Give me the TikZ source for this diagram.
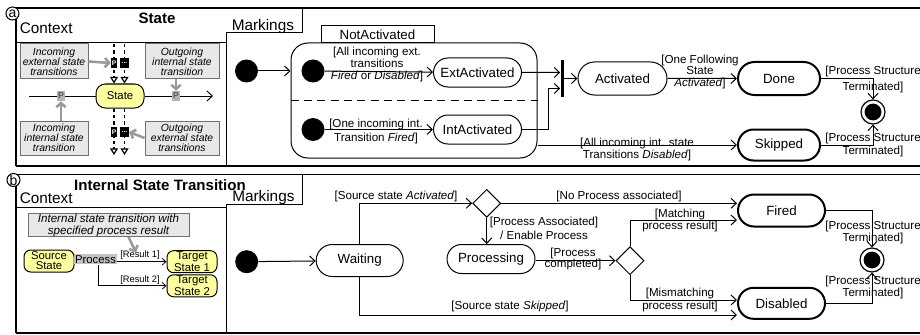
\documentclass[tikz,border=0pt]{standalone}
\usepackage{fontspec}
\setmainfont{Liberation Sans}
\usetikzlibrary{arrows.meta,shapes.misc,shapes.geometric,calc}

\definecolor{stateyellow}{HTML}{FFFFA0}
\definecolor{notefill}{HTML}{E8E8E8}
\definecolor{notegray}{HTML}{707070}
\definecolor{arrowgray}{HTML}{9A9A9A}
\definecolor{pgrayfill}{HTML}{B4B4B4}
\definecolor{procgray}{HTML}{C4C4C4}

\newcommand\mynodefont{\fontsize{10}{12}\selectfont}
\newcommand\myguardfont{\fontsize{8.7}{8.8}\selectfont}
\newcommand\mytitlefont{\fontsize{11.3}{13}\selectfont\bfseries}
\newcommand\myheadfont{\fontsize{11.5}{13}\selectfont}
\newcommand\mynotefont{\fontsize{7.8}{7.5}\selectfont\itshape}
\newcommand\mynotefontb{\fontsize{8.7}{8.8}\selectfont\itshape}
\newcommand\myctxfont{\fontsize{8.5}{7.5}\selectfont}
\newcommand\myresfont{\fontsize{7}{8}\selectfont}
\newcommand\mytinyfont{\fontsize{5}{5}\selectfont\bfseries}

\begin{document}
\begin{tikzpicture}[x=0.75pt,y=-0.75pt,
  framel/.style={line width=0.9pt},
  rulel/.style={line width=0.75pt},
  stn/.style={draw, rounded rectangle, line width=0.75pt, inner sep=0pt, font=\mynodefont},
  stnb/.style={stn, line width=1.5pt},
  tarr/.style={line width=0.75pt, -{Straight Barb[length=4pt,width=7.5pt]}},
  smarr/.style={line width=0.6pt, -{Straight Barb[length=2.8pt,width=5pt]}},
  grarr/.style={line width=1.9pt, draw=arrowgray, -{Straight Barb[length=3.2pt,width=7pt]}},
  grd/.style={font=\myguardfont, align=center, inner sep=0pt},
  idot/.style={circle, fill=black, inner sep=0pt, minimum size=17.25pt},
  fdot/.style={circle, draw, line width=0.9pt, inner sep=0pt, minimum size=18pt},
  notebox/.style={draw=notegray, fill=notefill, line width=0.75pt, inner sep=0pt, align=center, font=\mynotefont},
  ctxstate/.style={draw, fill=stateyellow, rounded corners=5pt, line width=0.75pt, inner sep=0pt, align=center, font=\myctxfont, minimum width=37.5pt, minimum height=16.5pt},
  decn/.style={draw, diamond, line width=0.75pt, inner sep=0pt, minimum width=21pt, minimum height=21pt},
  pgray/.style={fill=pgrayfill, inner sep=0pt, minimum width=6pt, minimum height=7.5pt, font=\fontsize{6.5}{6.5}\selectfont\bfseries, text=black!65},
  blkbox/.style={fill=black, text=white, inner sep=0pt, minimum height=7pt, font=\mytinyfont},
  dashl/.style={line width=0.9pt, dash pattern=on 2.6pt off 2.2pt},
  ttip/.style={-{Triangle[open,length=5pt,width=6pt]}},
  tagc/.style={circle, draw, fill=white, line width=0.75pt, inner sep=0pt, minimum size=9.75pt, font=\fontsize{10.5}{11}\selectfont},
  txt/.style={inner sep=0pt}
]
\useasboundingbox (0,0) rectangle (920,335);

% ---------------- panel (a): frame and headers ----------------
\draw[framel] (16,166) -- (16,8) -- (920,8);
\draw[framel] (16,166) -- (920,166);
\draw[rulel] (16,42.5) -- (226,42.5);
\draw[rulel] (226,33) -- (226,166);
\draw[rulel] (226,33) -- (302,33) -- (302,8);
\node[tagc] (tagA) at (12.5,13.5) {a};
\node[txt, font=\mytitlefont] (titleA) at (157,18.5) {State};
\node[txt, font=\myheadfont, anchor=west] (ctxA) at (19.5,28.3) {Context};
\node[txt, font=\myheadfont, anchor=west] (mkA) at (231.5,26.5) {Markings};

% ---------------- panel (a): context ----------------
\node[notebox, minimum width=51pt, minimum height=26.25pt] (inExt) at (54,61.5) {Incoming\\external state\\transitions};
\node[notebox, minimum width=55.5pt, minimum height=26.25pt] (outInt) at (182,61.5) {Outgoing\\internal state\\transition};
\node[notebox, minimum width=51pt, minimum height=25.5pt] (inInt) at (54,138) {Incoming\\internal state\\transition};
\node[notebox, minimum width=55.5pt, minimum height=25.5pt] (outExt) at (182,138) {Outgoing\\external state\\transitions};

\node[ctxstate, rounded corners=7pt, minimum width=36pt, minimum height=18pt] (stateA) at (120,96) {State};
\coordinate (lnL) at (29,96);
\coordinate (lnR) at (213,96);
\draw[rulel] (lnL) -- (stateA.west);
\draw[tarr] (stateA.east) -- (lnR);
\node[pgray] (pL) at (61,96) {P};
\node[pgray] (pR) at (176,96) {P};

% token flow through the state
\coordinate (dTopL) at (114,44);
\coordinate (dTopR) at (124.5,44);
\coordinate (dBotL) at (114,155);
\coordinate (dBotR) at (124.5,155);
\draw[dashl, ttip] (dTopL) -- (dTopL |- stateA.north);
\draw[dashl, ttip] (dTopR) -- (dTopR |- stateA.north);
\draw[dashl, ttip] (dBotL |- stateA.south) -- (dBotL);
\draw[dashl, ttip] (dBotR |- stateA.south) -- (dBotR);
\node[blkbox, minimum width=4.5pt] (bP1) at (114,63) {P};
\node[blkbox, minimum width=6.5pt] (bD1) at (124.5,63) {...};
\node[blkbox, minimum width=4.5pt] (bP2) at (114,132) {P};
\node[blkbox, minimum width=6.5pt] (bD2) at (124.5,132) {...};

\draw[grarr] (inExt.east) -- (bP1.west);
\draw[grarr] (outExt.west) -- (bD2.east);
\draw[grarr] (outInt.south -| pR) -- (pR.north);
\draw[grarr] (inInt.north -| pL) -- (pL.south);

% ---------------- panel (a): markings ----------------
\node[idot] (dotA0) at (246.5,71) {};
\node[draw, rounded corners=12.75pt, line width=0.75pt, minimum width=184.5pt, minimum height=86.25pt, inner sep=0pt] (notact) at (414,100.5) {};
\node[draw, fill=white, line width=0.75pt, minimum width=84.75pt, minimum height=12.75pt, inner sep=0pt, font=\mynodefont] (notactLbl) at (377.5,34.5) {NotActivated};
\coordinate (yDash) at (0,100);
\draw[line width=0.75pt, dash pattern=on 6pt off 4pt] (notact.west |- yDash) -- (notact.east |- yDash);

\node[idot] (dotA1) at (313,71) {};
\node[idot] (dotA2) at (313,129.5) {};
\node[stn, minimum width=66pt, minimum height=21.75pt] (ext) at (477.5,72.5) {ExtActivated};
\node[stn, minimum width=66pt, minimum height=21.75pt] (int) at (477.5,129.5) {IntActivated};
\node[fill=black, inner sep=0pt, minimum width=2.25pt, minimum height=27.75pt] (fork) at (562,78.5) {};
\node[stn, minimum width=66.75pt, minimum height=24.75pt] (act) at (622.5,78.5) {Activated};
\node[stnb, minimum width=61.5pt, minimum height=24.75pt] (done) at (779,78.5) {Done};
\node[stnb, minimum width=61.5pt, minimum height=23.25pt] (skip) at (779,145) {Skipped};
\node[fdot] (finalA) at (873,112) {};
\fill (finalA.center) circle (6.3pt);

\draw[tarr] (dotA0) -- (dotA0 -| notact.west);
\draw[tarr] (dotA1) -- (ext);
\draw[tarr] (dotA2) -- (int);
\draw[tarr] (ext) -- (ext -| fork.west);
\coordinate (intBend) at (548,88.5);
\draw[tarr] (int.east) -| (intBend) -- (intBend -| fork.west);
\draw[tarr] (fork.east |- act.west) -- (act.west);
\draw[tarr] (act) -- (done);
\draw[tarr] (notact.east |- skip) -- (skip.west);
\draw[tarr] (done.east) -| (finalA.north);
\draw[tarr] (skip.east) -| (finalA.south);

\node[grd] (gExt) at (377,65) {[All incoming ext.\\[0.2pt]transitions\\[0.2pt]\textit{Fired} or \textit{Disabled}]};
\node[grd] (gInt) at (376,131.5) {[One incoming int.\\[1pt]Transition \textit{Fired}]};
\node[grd] (gAct) at (700,72) {[One Following\\State\\\textit{Activated}]};
\node[grd] (gDone) at (873,79.5) {[Process Structure\\[2.8pt]Terminated]};
\node[grd] (gSkip) at (637,149.5) {[All incoming int. state\\[0.9pt]Transitions \textit{Disabled}]};
\node[grd] (gSkipT) at (873,145) {[Process Structure\\[1.2pt]Terminated]};

% ---------------- panel (b): frame and headers ----------------
\draw[framel] (16,333) -- (16,174.5) -- (920,174.5);
\draw[framel] (16,333) -- (920,333);
\draw[rulel] (16,207.7) -- (226,207.7);
\draw[rulel] (226,204.3) -- (226,333);
\draw[rulel] (226,204.3) -- (302,204.3) -- (302,174.5);
\node[tagc] (tagB) at (13.5,180) {b};
\node[txt, font=\mytitlefont] (titleB) at (160,185.5) {Internal State Transition};
\node[txt, font=\myheadfont, anchor=west] (ctxB) at (19.5,198.5) {Context};
\node[txt, font=\myheadfont, anchor=west] (mkB) at (232,198) {Markings};

% ---------------- panel (b): context ----------------
\node[notebox, font=\mynotefontb, minimum width=120.75pt, minimum height=16.5pt] (noteB) at (108.5,225.2) {Internal state transition with\\specified process result};
\node[ctxstate] (srcS) at (49,261) {Source\\State};
\node[fill=procgray, inner sep=0pt, minimum width=32.25pt, minimum height=7.5pt, font=\myctxfont] (procB) at (95.5,259.3) {Process};
\node[ctxstate] (tgt1) at (192,261.7) {Target\\State 1};
\node[ctxstate] (tgt2) at (192,285.8) {Target\\State 2};
\draw[smarr] (procB.east |- tgt1) -- (tgt1.west);
\draw[smarr] ($(procB.south)+(3,0)$) |- (tgt2.west);
\node[txt, font=\myresfont] (r1) at (140,255.5) {[Result 1]};
\node[txt, font=\myresfont] (r2) at (140,280) {[Result 2]};
\coordinate (gtipB) at (136,252.5);
\draw[grarr] ($(noteB.south)+(20,0)$) -- (gtipB);

% ---------------- panel (b): markings ----------------
\node[idot] (dotB0) at (246.7,261.7) {};
\node[stn, minimum width=65.25pt, minimum height=24pt] (wait) at (359.7,260.5) {Waiting};
\node[decn] (d1) at (486.7,203.3) {};
\node[stn, minimum width=66pt, minimum height=21.75pt] (proc) at (491,259) {Processing};
\node[decn] (d2) at (630,260.7) {};
\node[stnb, minimum width=65.25pt, minimum height=24pt] (fired) at (781.5,210.5) {Fired};
\node[stnb, minimum width=65.25pt, minimum height=23.25pt] (disab) at (781.5,303.3) {Disabled};
\node[fdot] (finalB) at (872,260) {};
\fill (finalB.center) circle (6.3pt);

\coordinate (y220) at (0,220);
\coordinate (y300) at (0,300);
\coordinate (y315) at (0,315);
\draw[tarr] (dotB0) -- (wait);
\draw[tarr] (wait.north) |- (d1.west);
\draw[tarr] (d1.east) -- (d1.east -| fired.west);
\draw[tarr] (d1.south) -- (d1.south |- proc.north);
\draw[tarr] (proc.east |- d2) -- (d2.west);
\draw[tarr] (d2.north) |- (fired.west |- y220);
\draw[tarr] (d2.south) |- (disab.west |- y300);
\draw[tarr] (wait.south) |- (disab.west |- y315);
\draw[tarr] (fired.east) -| (finalB.north);
\draw[tarr] (disab.east) -| (finalB.south);

\node[grd] (gSrcA) at (396,196.7) {[Source state \textit{Activated}]};
\node[grd] (gNoP) at (619,196.7) {[No Process associated]};
\node[grd] (gPA) at (544,228.3) {[Process Associated]\\[1.2pt]/ Enable Process};
\node[grd] (gPC) at (573,258.8) {[Process\\[-0.6pt]completed]};
\node[grd] (gMat) at (680,220.8) {[Matching\\process result]};
\node[grd] (gMis) at (680,300) {[Mismatching\\[1.2pt]process result]};
\node[grd] (gSrcS) at (510,306.7) {[Source state \textit{Skipped}]};
\node[grd] (gFT) at (873,232.8) {[Process Structure\\[0.4pt]Terminated]};
\node[grd] (gDT) at (873,287.5) {[Process Structure\\Terminated]};
\end{tikzpicture}
\end{document}
